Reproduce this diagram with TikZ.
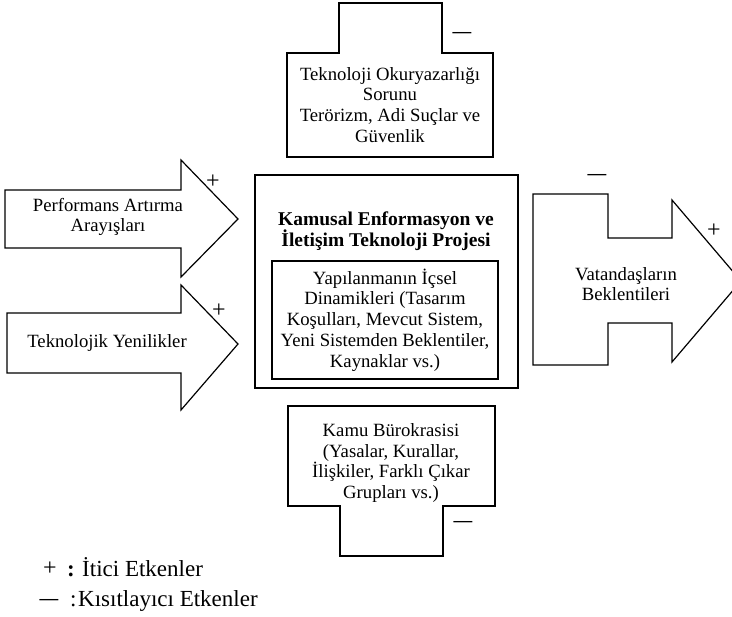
\documentclass[tikz,border=0pt]{standalone}
\usepackage{fontspec}
\setmainfont{Liberation Serif}
\tikzset{
  shp/.style={draw=black, line width=1.2pt, line join=miter, fill=white},
  bigbox/.style={draw=black, line width=1.6pt},
  txt/.style={align=center, inner sep=0pt, font=\fontsize{18.7}{20.8}\selectfont},
  ttl/.style={align=center, inner sep=0pt, font=\fontsize{19.5}{21}\selectfont\bfseries},
  plussign/.style={inner sep=0pt, anchor=base, font=\fontsize{24}{24}\selectfont},
  minussign/.style={inner sep=0pt, anchor=base, font=\fontsize{18.7}{20}\selectfont\bfseries},
  legtxt/.style={inner sep=0pt, anchor=base west, font=\fontsize{23}{25}\selectfont},
}
\begin{document}
\begin{tikzpicture}[x=1pt,y=-1pt]
\clip (0,0) rectangle (732,617);
\fill[white] (0,0) rectangle (732,617);
% top box
\path[shp] (339,3) -- (442,3) -- (442,53) -- (493,53) -- (493,157) -- (287,157) -- (287,53) -- (339,53) -- cycle;
\node[txt] (ttop) at (390,105) {Teknoloji Okuryazarlığı\\Sorunu\\Terörizm, Adi Suçlar ve\\Güvenlik};
\node[minussign] (mtop) at (462,37.5) {—};
% left arrows
\path[shp] (5,190) -- (181,190) -- (181,160) -- (238,219) -- (181,277) -- (181,248) -- (5,248) -- cycle;
\node[txt] (tperf) at (108,217) {Performans Artırma\\Arayışları};
\node[plussign] (pperf) at (213,189) {+};
\path[shp] (7,313) -- (181,313) -- (181,285) -- (238,344) -- (181,410) -- (181,373) -- (7,373) -- cycle;
\node[txt] (ttek) at (107,343) {Teknolojik Yenilikler};
\node[plussign] (ptek) at (219,318) {+};
% center
\draw[bigbox] (255,175) rectangle (518,388);
\node[ttl] (tproj) at (386,231) {Kamusal Enformasyon ve\\İletişim Teknoloji Projesi};
\draw[bigbox] (272,261) rectangle (498,379);
\node[txt] (tinner) at (385,320) {Yapılanmanın İçsel\\Dinamikleri (Tasarım\\Koşulları, Mevcut Sistem,\\Yeni Sistemden Beklentiler,\\Kaynaklar vs.)};
% bottom box
\path[shp] (288,406) -- (495,406) -- (495,506) -- (443,506) -- (443,556) -- (340,556) -- (340,506) -- (288,506) -- cycle;
\node[txt] (tbur) at (391,463) {Kamu Bürokrasisi\\(Yasalar, Kurallar,\\İlişkiler, Farklı Çıkar\\Grupları vs.)};
\node[minussign] (mbur) at (463,526.5) {—};
% right arrow
\path[shp] (533,194) -- (608,194) -- (608,238) -- (672,238) -- (672,200) -- (741,281) -- (672,362) -- (672,323) -- (608,323) -- (608,365) -- (533,365) -- cycle;
\node[txt, font=\fontsize{18.7}{19.5}\selectfont] (tvat) at (626,284) {Vatandaşların\\Beklentileri};
\node[minussign] (mvat) at (597,179.5) {—};
\node[plussign] (pvat) at (714,238) {+};
% legend
\node[plussign, font=\fontsize{24}{24}\selectfont] (lp) at (50,576) {+};
\node[legtxt] (lc1) at (67,577) {\textbf{:}};
\node[legtxt] (l1) at (82,577) {İtici Etkenler};
\node[minussign] (lm) at (49,604.5) {—};
\node[legtxt] (lc2) at (70,607) {:};
\node[legtxt] (l2) at (78,607) {Kısıtlayıcı Etkenler};
\end{tikzpicture}
\end{document}
